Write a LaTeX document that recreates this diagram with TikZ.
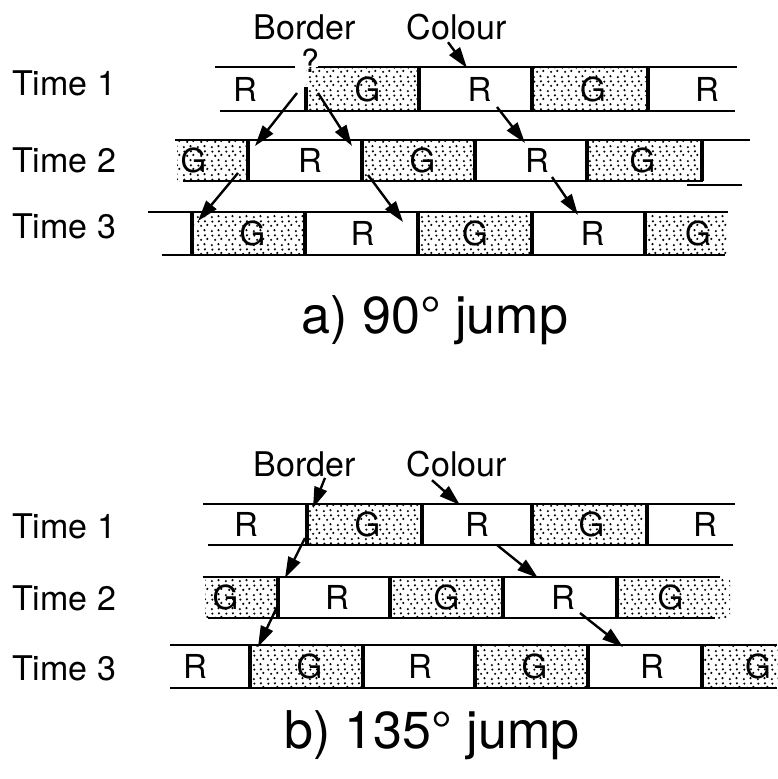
\documentclass[tikz,border=0pt]{standalone}
\usepackage{fontspec}
\setmainfont{TeX Gyre Heros}
\usetikzlibrary{arrows.meta,patterns.meta}

% sparse stipple used for the shaded (G) cells
\tikzdeclarepattern{
  name=stipple, type=uncolored,
  bounding box={(0pt,0pt) and (14pt,14pt)},
  tile size={(14pt,14pt)},
  code={
    \fill (2pt,2pt) circle (1.25pt);
    \fill (9pt,3pt) circle (1.25pt);
    \fill (5.5pt,7.5pt) circle (1.25pt);
    \fill (12pt,8.5pt) circle (1.25pt);
    \fill (2.5pt,12pt) circle (1.25pt);
    \fill (9.5pt,12.3pt) circle (1.25pt);
  }
}

\tikzset{
  wcell/.style={rectangle, inner sep=0pt, outer sep=0pt},
  scell/.style={wcell, pattern=stipple, pattern color=black},
  lettr/.style={font=\fontsize{33}{40}\selectfont, inner sep=0pt},
  rail/.style={line width=2.4pt},
  divider/.style={line width=3.2pt},
  jump/.style={line width=2.4pt, -{Triangle[length=21pt,width=13pt]}},
  timelbl/.style={font=\fontsize{34}{40}\selectfont, anchor=west, inner sep=0pt},
  tag/.style={font=\fontsize{34}{40}\selectfont, inner sep=1pt},
  caption/.style={font=\fontsize{52}{60}\selectfont, anchor=base, inner sep=0pt},
}

\begin{document}
\begin{tikzpicture}[x=1pt,y=-1pt]
\useasboundingbox (0,0) rectangle (777,779);

% ---------------- a) 90 degree jump ----------------
\node[timelbl] (ta1) at (12,83)  {Time 1};
\node[timelbl] (ta2) at (12,160) {Time 2};
\node[timelbl] (ta3) at (12,226) {Time 3};

\node[tag] (borA) at (305,27) {Border};
\node[tag] (colA) at (457,27) {Colour};
\node[font=\fontsize{32}{36}\selectfont, inner sep=0pt] (qmark) at (310,61) {?};

% cells: index / left / right / style / letter / text offset
\foreach \i/\l/\r/\s/\t/\dx in {1/184/306/wcell/R/0, 2/306/419/scell/G/5,
    3/419/532/wcell/R/4, 4/532/648/scell/G/3, 5/648/766/wcell/R/0}{
  \node[\s, minimum width={\r-\l}, minimum height=44] (a1c\i) at ({(\l+\r)/2},89) {};
  \node[lettr] (a1t\i) at ([xshift=\dx]a1c\i.center) {\t};
}
\foreach \i/\l/\r/\s/\t/\dx in {1/177/248/scell/G/-19, 2/248/362/wcell/R/5,
    3/362/475/scell/G/4, 4/475/587/wcell/R/6, 5/587/702/scell/G/-2}{
  \node[\s, minimum width={\r-\l}, minimum height=41] (a2c\i) at ({(\l+\r)/2},160.5) {};
  \node[lettr] (a2t\i) at ([xshift=\dx]a2c\i.center) {\t};
}
\foreach \i/\l/\r/\s/\t/\dx in {1/192/305/scell/G/4, 2/305/418/wcell/R/1,
    3/418/532/scell/G/0, 4/532/645/wcell/R/4, 5/645/727/scell/G/12}{
  \node[\s, minimum width={\r-\l}, minimum height=43] (a3c\i) at ({(\l+\r)/2},233.5) {};
  \node[lettr] (a3t\i) at ([xshift=\dx]a3c\i.center) {\t};
}

% rails
\draw[rail] (215,67) -- (295,67);
\draw[rail] (318,67) -- (737,67);
\draw[rail] (220,111) -- (735,111);
\draw[rail] (175,140) -- (750,140);
\draw[rail] (183,181) -- (703,181);
\draw[rail] (687,185) -- (742,185);
\draw[rail] (148,212) -- (728,212);
\draw[rail] (162,255) -- (725,255);

% cell borders
\draw[divider] (a1c2.south west) -- ([yshift=24pt]a1c2.south west);
\foreach \i in {3,4,5} \draw[divider] (a1c\i.north west) -- (a1c\i.south west);
\foreach \i in {2,3,4,5} \draw[divider] (a2c\i.north west) -- (a2c\i.south west);
\draw[divider] (a2c5.north east) -- (a2c5.south east);
\foreach \i in {1,2,3,4,5} \draw[divider] (a3c\i.north west) -- (a3c\i.south west);

% arrows
\draw[jump] ([shift={(-9,26)}]a1c2.north west) -- ([shift={(7,6)}]a2c2.north west);
\draw[jump] ([shift={(12,26)}]a1c2.north west) -- ([shift={(-10,6)}]a2c3.north west);
\draw[jump] ([shift={(-9,1)}]colA.south) -- ([shift={(48,1)}]a1c3.north west);
\draw[jump] ([shift={(78,-4)}]a1c3.south west) -- ([shift={(50,3)}]a2c4.north west);
\draw[jump] ([shift={(-10,-8)}]a2c2.south west) -- ([shift={(6,9)}]a3c1.north west);
\draw[jump] ([shift={(6,-6)}]a2c3.south west) -- ([shift={(-15,10)}]a3c2.north east);
\draw[jump] ([shift={(77,-4)}]a2c4.south west) -- ([shift={(46,3)}]a3c4.north west);

\node[caption] (capA) at (435,333) {a) 90° jump};

% ---------------- b) 135 degree jump ----------------
\node[timelbl] (tb1) at (12,526) {Time 1};
\node[timelbl] (tb2) at (12,598) {Time 2};
\node[timelbl] (tb3) at (12,668) {Time 3};

\node[tag] (borB) at (305,464) {Border};
\node[tag] (colB) at (457,464) {Colour};

\foreach \i/\l/\r/\s/\t/\dx in {1/185/307/wcell/R/0, 2/307/422/scell/G/3,
    3/422/532/wcell/R/0, 4/532/647/scell/G/2, 5/647/763/wcell/R/0}{
  \node[\s, minimum width={\r-\l}, minimum height=41] (b1c\i) at ({(\l+\r)/2},524.5) {};
  \node[lettr] (b1t\i) at ([xshift=\dx]b1c\i.center) {\t};
}
\foreach \i/\l/\r/\s/\t/\dx in {1/205/278/scell/G/-16, 2/278/390/wcell/R/3,
    3/390/503/scell/G/0, 4/503/617/wcell/R/3, 5/617/730/scell/G/-3}{
  \node[\s, minimum width={\r-\l}, minimum height=41] (b2c\i) at ({(\l+\r)/2},597.5) {};
  \node[lettr] (b2t\i) at ([xshift=\dx]b2c\i.center) {\t};
}
\foreach \i/\l/\r/\s/\t/\dx in {1/140/250/wcell/R/0, 2/250/363/scell/G/3,
    3/363/475/wcell/R/1, 4/475/588/scell/G/3, 5/588/702/wcell/R/7, 6/702/814/scell/G/0}{
  \node[\s, minimum width={\r-\l}, minimum height=43] (b3c\i) at ({(\l+\r)/2},666.5) {};
  \node[lettr] (b3t\i) at ([xshift=\dx]b3c\i.center) {\t};
}

% rails
\draw[rail] (203,504) -- (735,504);
\draw[rail] (208,545) -- (733,545);
\draw[rail] (203,577) -- (720,577);
\draw[rail] (208,618) -- (715,618);
\draw[rail] (170,645) -- (777,645);
\draw[rail] (170,688) -- (777,688);

% cell borders
\foreach \i in {2,3,4,5} \draw[divider] (b1c\i.north west) -- (b1c\i.south west);
\foreach \i in {2,3,4,5} \draw[divider] (b2c\i.north west) -- (b2c\i.south west);
\foreach \i in {2,3,4,5,6} \draw[divider] (b3c\i.north west) -- (b3c\i.south west);

% arrows
\draw[jump] ([shift={(20,0)}]borB.south) -- ([shift={(6,4)}]b1c2.north west);
\draw[jump] ([shift={(-25,2)}]colB.south) -- ([shift={(38,1)}]b1c3.north west);
\draw[jump] ([shift={(-2,-7)}]b1c2.south west) -- ([shift={(7,1)}]b2c2.north west);
\draw[jump] ([shift={(75,0)}]b1c3.south west) -- ([shift={(35,1)}]b2c4.north west);
\draw[jump] ([shift={(-1,-11)}]b2c2.south west) -- ([shift={(8,2)}]b3c2.north west);
\draw[jump] ([shift={(77,-5)}]b2c4.south west) -- ([shift={(35,2)}]b3c5.north west);

\node[caption] (capB) at (432,748) {b) 135° jump};
\end{tikzpicture}
\end{document}
